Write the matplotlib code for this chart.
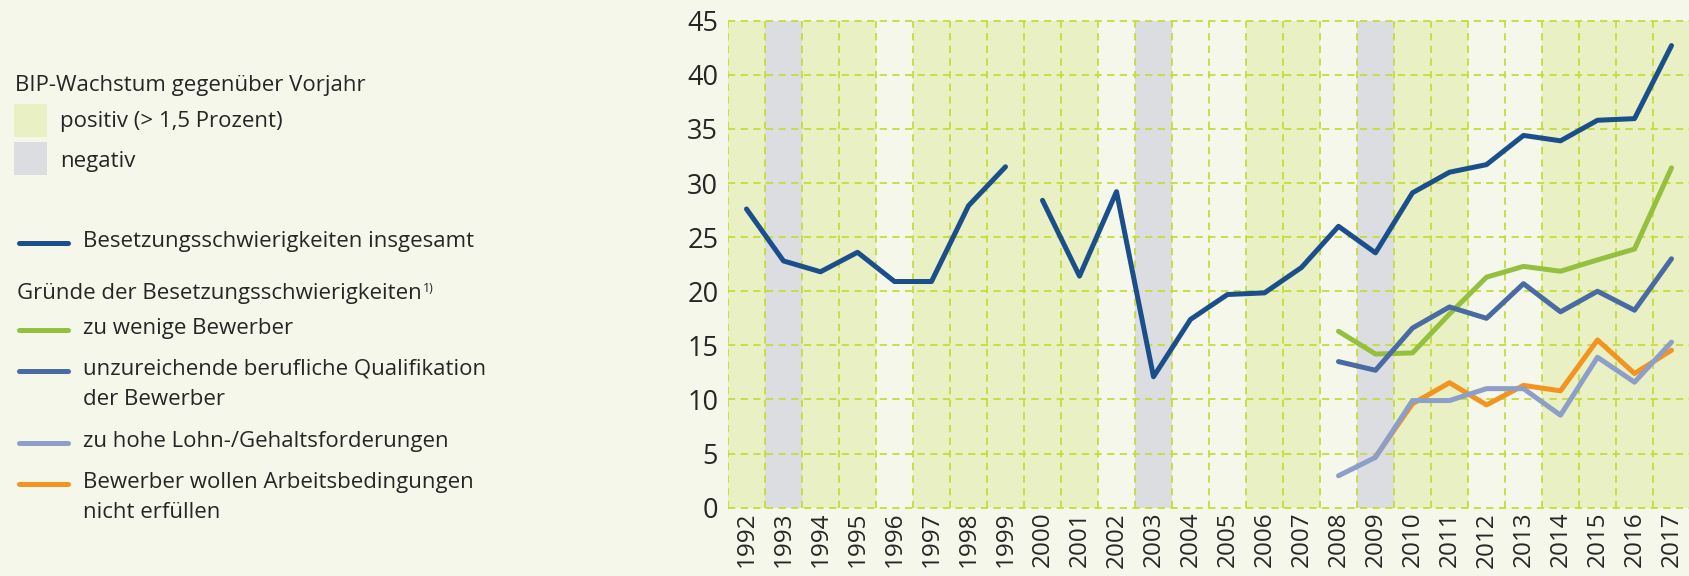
import numpy as np
import matplotlib.pyplot as plt

years = list(range(1992, 2018))
# BIP growth category per year: pos = > 1,5 %, neg = negative, mid = between
growth = ['pos', 'neg', 'pos', 'pos', 'mid', 'pos', 'pos', 'pos', 'pos', 'pos',
          'mid', 'neg', 'mid', 'mid', 'pos', 'pos', 'mid', 'neg', 'pos', 'pos',
          'mid', 'mid', 'pos', 'pos', 'pos', 'pos']

years_a = list(range(1992, 2000))
total_a = [27.6, 22.8, 21.8, 23.6, 20.9, 20.9, 27.9, 31.5]
years_b = list(range(2000, 2018))
total_b = [28.4, 21.4, 29.2, 12.1, 17.4, 19.7, 19.85, 22.2, 26.0, 23.55,
           29.1, 31.0, 31.7, 34.4, 33.9, 35.8, 35.95, 42.7]

years_r = list(range(2008, 2018))
wenige = [16.3, 14.2, 14.3, 17.9, 21.3, 22.3, 21.85, 22.9, 23.9, 31.4]
quali = [13.5, 12.7, 16.6, 18.55, 17.5, 20.7, 18.1, 20.0, 18.25, 23.0]
lohn = [2.95, 4.65, 9.9, 9.9, 11.0, 11.0, 8.55, 13.9, 11.6, 15.3]
years_o = list(range(2009, 2018))
arbeit = [4.7, 9.6, 11.55, 9.5, 11.3, 10.8, 15.5, 12.4, 14.55]

bg = '#F5F7EA'
band_col = {'pos': '#E8F0C4', 'neg': '#DCDDE0', 'mid': '#F5F7EA'}
grid_col = '#C6DB3C'
c_total = '#1B4F8C'
c_wenige = '#95BF3F'
c_quali = '#4A6AA3'
c_lohn = '#8D9EC9'
c_arbeit = '#F39320'
txt = '#262626'
font = 'Open Sans'

W, H = 1690, 576
fig = plt.figure(figsize=(W / 100, H / 100), dpi=100, facecolor=bg)
ax = fig.add_axes([728 / W, 1 - 507.7 / H, 1 - 728 / W, 487 / H])
ax.set_facecolor(bg)

for i, g in enumerate(growth):
    ax.axvspan(years[i] - 0.5, years[i] + 0.5, color=band_col[g], lw=0, zorder=0)

ax.set_xlim(1991.5, 2017.5)
ax.set_ylim(0, 45)

for y in range(0, 50, 5):
    ax.axhline(y, color=grid_col, lw=1.3, ls=(0, (4, 3)), zorder=1, clip_on=False)
for x in years:
    ax.axvline(x - 0.5, color=grid_col, lw=1.3, ls=(0, (4, 3)), zorder=1)

lw = 3.6
ax.plot(years_a, total_a, color=c_total, lw=lw, solid_capstyle='round', zorder=5)
ax.plot(years_b, total_b, color=c_total, lw=lw, solid_capstyle='round', zorder=5)
ax.plot(years_r, wenige, color=c_wenige, lw=lw, solid_capstyle='round', zorder=3)
ax.plot(years_r, quali, color=c_quali, lw=lw, solid_capstyle='round', zorder=4)
ax.plot(years_o, arbeit, color=c_arbeit, lw=lw, solid_capstyle='round', zorder=3)
ax.plot(years_r, lohn, color=c_lohn, lw=lw, solid_capstyle='round', zorder=4)

for s in ax.spines.values():
    s.set_visible(False)
ax.set_yticks(range(0, 50, 5))
ax.set_yticklabels([str(v) for v in range(0, 50, 5)], fontsize=19.5, color=txt, family=font)
ax.set_xticks(years)
ax.set_xticklabels([str(y) for y in years], rotation=90, fontsize=17.5, color=txt,
                   family=font, va='top')
ax.tick_params(length=0, pad=7)
ax.tick_params(axis='x', pad=3)


def fy(py):
    return 1 - py / H


fs = 16
fig.text(15 / W, fy(85), 'BIP-Wachstum gegenüber Vorjahr', fontsize=fs, color=txt,
         family=font, va='center')
fig.patches.append(plt.Rectangle((14 / W, fy(137)), 33 / W, 33 / H, color=band_col['pos'],
                                 transform=fig.transFigure, lw=0))
fig.text(60 / W, fy(122), 'positiv (> 1,5 Prozent)', fontsize=fs, color=txt,
         family=font, va='center')
fig.patches.append(plt.Rectangle((14 / W, fy(175)), 33 / W, 33 / H, color=band_col['neg'],
                                 transform=fig.transFigure, lw=0))
fig.text(60 / W, fy(161), 'negativ', fontsize=fs, color=txt, family=font, va='center')

entries = [
    (243, c_total, 'Besetzungsschwierigkeiten insgesamt'),
    (330, c_wenige, 'zu wenige Bewerber'),
    (371, c_quali, 'unzureichende berufliche Qualifikation\nder Bewerber'),
    (443, c_lohn, 'zu hohe Lohn-/Gehaltsforderungen'),
    (484, c_arbeit, 'Bewerber wollen Arbeitsbedingungen\nnicht erfüllen'),
]
for py, col, label in entries:
    fig.add_artist(plt.Line2D([19 / W, 68 / W], [fy(py), fy(py)], color=col, lw=3.6,
                              solid_capstyle='round', transform=fig.transFigure))
    fig.text(83 / W, fy(py - 12), label, fontsize=fs, color=txt, family=font,
             va='top', linespacing=1.55)

g = fig.text(17 / W, fy(293), 'Gründe der Besetzungsschwierigkeiten', fontsize=fs,
             color=txt, family=font, va='center')
ax.annotate('1)', xy=(1, 1), xycoords=g, xytext=(1, 0), textcoords='offset points',
            fontsize=9, color=txt, family=font, va='top', ha='left',
            annotation_clip=False)

fig.savefig('out.png', dpi=100, facecolor=bg)
